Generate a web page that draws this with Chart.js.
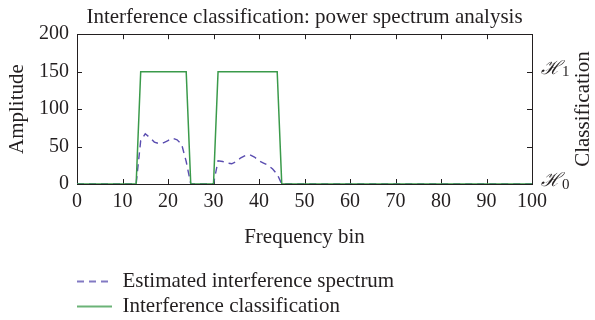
<!DOCTYPE html>
<html>
<head>
<meta charset="utf-8">
<script src="https://cdn.jsdelivr.net/npm/chart.js@4/dist/chart.umd.min.js"></script>
<style>
  html, body { margin: 0; padding: 0; background: #fff; }
  #wrap { width: 595px; height: 320px; }
</style>
</head>
<body>
<div id="wrap"><canvas id="myChart" width="595" height="320"></canvas></div>
<script>
// data
var specBins   = [0, 13, 14, 15, 16, 17, 18, 19, 20, 21, 22, 23, 24, 25, 30, 31, 32, 33, 34, 35, 36, 37, 38, 39, 40, 41, 42, 43, 44, 45, 100]
var specValues = [0, 0, 58, 67, 62, 56, 54, 55, 58, 61, 59, 53, 30, 0, 0, 31, 30, 28, 27, 30, 35, 38, 39, 36, 31, 28, 25, 20, 13, 0, 0]
var classBins   = [0, 13, 14, 24, 25, 30, 31, 44, 45, 100]
var classValues = [0, 0, 150, 150, 0, 0, 150, 150, 0, 0]
var xTicks = [0, 10, 20, 30, 40, 50, 60, 70, 80, 90, 100]
var yTicks = [0, 50, 100, 150, 200]
var classTicks = [{value: 150, sub: '1'}, {value: 0, sub: '0'}]

var FONT = "'Liberation Serif', 'DejaVu Serif', serif"
var FS = 20      // tick labels
var FT = 21      // titles, legend
var INK = '#231f20'
var BLUE = '#5a4db0'
var GREEN = '#3a9a4a'

function toPoints(xs, ys){
    var pts = []
    for (var i = 0; i < xs.length; i++){
        pts.push({x: xs[i], y: ys[i]})
    }
    return pts
}

// little line samples for the legend
function legendLine(color, dash){
    var c = document.createElement('canvas')
    c.width = 35; c.height = 4
    var g = c.getContext('2d')
    g.strokeStyle = color
    g.lineWidth = 1.5
    g.setLineDash(dash)
    g.beginPath(); g.moveTo(0, 2); g.lineTo(35, 2); g.stroke()
    return c
}

// frame + inward ticks, drawn under the lines
var framePlugin = {
    id: 'frame',
    beforeDraw: function(chart){
        // push the legend a bit lower and left, like the original
        var lg = chart.legend
        if (lg && !lg._shifted){
            lg.top += 7; lg.bottom += 7
            lg.left -= 4; lg.right -= 4
            lg._shifted = true
        }
    },
    beforeDatasetsDraw: function(chart){
        var ctx = chart.ctx
        var a = chart.chartArea
        var xs = chart.scales.x, ys = chart.scales.y
        ctx.save()
        ctx.strokeStyle = INK
        ctx.lineWidth = 1
        ctx.strokeRect(Math.round(a.left)+0.5, Math.round(a.top)+0.5, Math.round(a.right-a.left), Math.round(a.bottom-a.top))
        ctx.beginPath()
        xTicks.forEach(function(v){
            var px = Math.round(xs.getPixelForValue(v))+0.5
            ctx.moveTo(px, a.bottom); ctx.lineTo(px, a.bottom-5)
            ctx.moveTo(px, a.top); ctx.lineTo(px, a.top+5)
        })
        yTicks.forEach(function(v){
            var py = Math.round(ys.getPixelForValue(v))+0.5
            ctx.moveTo(a.left, py); ctx.lineTo(a.left+5, py)
            ctx.moveTo(a.right, py); ctx.lineTo(a.right-5, py)
        })
        ctx.stroke()
        ctx.restore()
    },
    afterDraw: function(chart){
        var ctx = chart.ctx
        var a = chart.chartArea
        var y2 = chart.scales.y2
        ctx.save()
        ctx.fillStyle = INK
        // H0 / H1 labels on the right axis
        ctx.textAlign = 'left'
        ctx.textBaseline = 'alphabetic'
        classTicks.forEach(function(t){
            var py = y2.getPixelForValue(t.value)
            ctx.font = 'italic 19px ' + FONT
            ctx.fillText('ℋ', a.right + 9, py + 2)
            var w = ctx.measureText('ℋ').width
            ctx.font = '15px ' + FONT
            ctx.fillText(t.sub, a.right + 10 + w, py + 4.5)
        })
        // right title reads bottom to top
        ctx.font = FT + 'px ' + FONT
        ctx.textAlign = 'center'
        ctx.textBaseline = 'middle'
        ctx.translate(583, (a.top + a.bottom)/2)
        ctx.rotate(-Math.PI/2)
        ctx.fillText('Classification', 0, 0)
        ctx.restore()
    }
}

var ctx = document.getElementById("myChart")
var myChart = new Chart(ctx, {
    type: 'line',
    data: {
        datasets: [
            {
                label: 'Estimated interference spectrum',
                data: toPoints(specBins, specValues),
                borderColor: BLUE,
                borderWidth: 1.4,
                borderDash: [7, 5],
                pointRadius: 0,
                pointStyle: legendLine(BLUE, [7, 5]),
                fill: false,
                order: 1
            },
            {
                label: 'Interference classification',
                data: toPoints(classBins, classValues),
                borderColor: GREEN,
                borderWidth: 1.5,
                pointRadius: 0,
                pointStyle: legendLine(GREEN, []),
                fill: false,
                order: 0
            }
        ]
    },
    options: {
        responsive: false,
        animation: false,
        layout: { padding: 0 },
        plugins: {
            title: {
                display: true,
                fullSize: false,
                text: 'Interference classification: power spectrum analysis',
                color: INK,
                font: { family: FONT, size: FT, weight: 'normal', lineHeight: 1.2 },
                padding: { top: 5, bottom: 4 }
            },
            legend: {
                position: 'bottom',
                align: 'start',
                fullSize: false,
                labels: {
                    color: INK,
                    font: { family: FONT, size: FT },
                    usePointStyle: true,
                    pointStyleWidth: 35,
                    padding: 4,
                    sort: function(a, b){ return a.datasetIndex - b.datasetIndex }
                }
            },
            tooltip: { enabled: false }
        },
        scales: {
            x: {
                type: 'linear',
                min: 0, max: 100,
                afterBuildTicks: function(s){ s.ticks = xTicks.map(function(v){ return {value: v} }) },
                afterFit: function(s){ s.height = 76 },
                grid: { display: false, drawTicks: false },
                border: { display: false },
                ticks: { color: INK, font: { family: FONT, size: FS }, padding: 6, maxRotation: 0 },
                title: { display: true, text: 'Frequency bin', color: INK, font: { family: FONT, size: FT }, padding: { top: 0, bottom: 10 } }
            },
            y: {
                position: 'left',
                min: 0, max: 200,
                afterBuildTicks: function(s){ s.ticks = yTicks.map(function(v){ return {value: v} }) },
                afterFit: function(s){ s.width = 77 },
                grid: { display: false, drawTicks: false },
                border: { display: false },
                ticks: { color: INK, font: { family: FONT, size: FS }, padding: 8 },
                title: { display: true, text: 'Amplitude', color: INK, font: { family: FONT, size: FT }, padding: { top: 5, bottom: 0 } }
            },
            y2: {
                position: 'right',
                min: 0, max: 200,
                afterFit: function(s){ s.width = 63 },
                grid: { display: false, drawTicks: false },
                border: { display: false },
                ticks: { display: false }
            }
        }
    },
    plugins: [framePlugin]
})
</script>
</body>
</html>
